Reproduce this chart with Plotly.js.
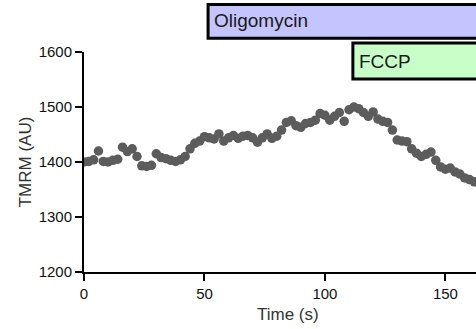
<!DOCTYPE html>
<html>
<head>
<meta charset="utf-8">
<script src="https://cdn.plot.ly/plotly-3.0.1.min.js"></script>
<style>
  html, body { margin: 0; padding: 0; background: #fff; }
  #chart { width: 476px; height: 329px; }
</style>
</head>
<body>
<div id="chart"></div>
<script>
// TMRM fluorescence trace, one reading every 2 s
const timeS = [
  0, 2, 4, 6, 8, 10, 12, 14, 16, 18, 20, 22, 24, 26, 28, 30, 32, 34, 36, 38,
  40, 42, 44, 46, 48, 50, 52, 54, 56, 58, 60, 62, 64, 66, 68, 70, 72, 74, 76, 78,
  80, 82, 84, 86, 88, 90, 92, 94, 96, 98, 100, 102, 104, 106, 108, 110, 112, 114, 116, 118,
  120, 122, 124, 126, 128, 130, 132, 134, 136, 138, 140, 142, 144, 146, 148, 150, 152, 154, 156, 158,
  160, 162, 164
];
const tmrm = [
  1400, 1401, 1404, 1420, 1401, 1400, 1403, 1405, 1427, 1419, 1424, 1410, 1393, 1392, 1394, 1415, 1408, 1406, 1403, 1401,
  1404, 1410, 1424, 1434, 1438, 1446, 1444, 1442, 1451, 1438, 1444, 1448, 1443, 1447, 1448, 1444, 1436, 1444, 1451, 1443,
  1447, 1458, 1472, 1475, 1466, 1463, 1470, 1472, 1476, 1488, 1485, 1476, 1483, 1490, 1474, 1495, 1500, 1497, 1490, 1483,
  1491, 1478, 1474, 1472, 1458, 1440, 1438, 1437, 1424, 1416, 1410, 1414, 1418, 1403, 1391, 1387, 1389, 1382, 1378, 1371,
  1368, 1364, 1362
];

// Drug additions (start time in s) shown as bars above the trace
const drugNames = ['Oligomycin', 'FCCP'];
const drugStart = [51.5, 111.6];
const drugColors = ['#c4c4ff', '#c8ffc8'];

const xTicks = [0, 50, 100, 150];
const yTicks = [1200, 1300, 1400, 1500, 1600];

const font = 'Liberation Sans, Arial, sans-serif';

const trace = {
  x: timeS,
  y: tmrm,
  type: 'scatter',
  mode: 'markers',
  marker: { color: '#5c5c5c', size: 9.5, line: { width: 0 } },
  hoverinfo: 'x+y'
};

// Bar rows in paper coordinates (bottom, top) and text centre
const bandY = [[1.063, 1.216], [0.877, 1.041]];
const textY = [1.141, 0.959];

const shapes = drugNames.map((n, i) => ({
  type: 'rect',
  xref: 'x', yref: 'paper',
  x0: drugStart[i], x1: 200,
  y0: bandY[i][0], y1: bandY[i][1],
  fillcolor: drugColors[i],
  line: { color: '#000', width: 3 },
  layer: 'above'
}));

const annotations = drugNames.map((n, i) => ({
  text: n,
  xref: 'x', yref: 'paper',
  x: drugStart[i] + 1.5, y: textY[i],
  xanchor: 'left', yanchor: 'middle',
  showarrow: false,
  font: { family: font, size: 19, color: '#1a1a1a' }
}));

annotations.push({
  text: 'Time (s)',
  xref: 'paper', yref: 'paper',
  x: (288 - 84) / 392, y: -0.195,
  xanchor: 'center', yanchor: 'middle',
  showarrow: false,
  font: { family: font, size: 17, color: '#333' }
});

const layout = {
  width: 476,
  height: 329,
  margin: { l: 84, r: 0, t: 52, b: 57 },
  paper_bgcolor: '#fff',
  plot_bgcolor: '#fff',
  showlegend: false,
  font: { family: font, color: '#000' },
  xaxis: {
    range: [0, 162.7],
    tickvals: xTicks,
    ticktext: xTicks.map(String),
    ticks: 'outside', ticklen: 7, tickwidth: 2, tickcolor: '#000',
    showline: true, linecolor: '#000', linewidth: 2,
    showgrid: false, zeroline: false,
    tickfont: { family: font, size: 15, color: '#111' }
  },
  yaxis: {
    range: [1200, 1600],
    tickvals: yTicks,
    ticktext: yTicks.map(String),
    ticks: 'outside', ticklen: 7, tickwidth: 2, tickcolor: '#000',
    showline: true, linecolor: '#000', linewidth: 2,
    showgrid: false, zeroline: false,
    tickfont: { family: font, size: 15, color: '#111' },
    title: { text: 'TMRM (AU)', standoff: 3, font: { family: font, size: 17, color: '#333' } }
  },
  shapes: shapes,
  annotations: annotations
};

Plotly.newPlot('chart', [trace], layout, { staticPlot: true, displayModeBar: false });
</script>
</body>
</html>
